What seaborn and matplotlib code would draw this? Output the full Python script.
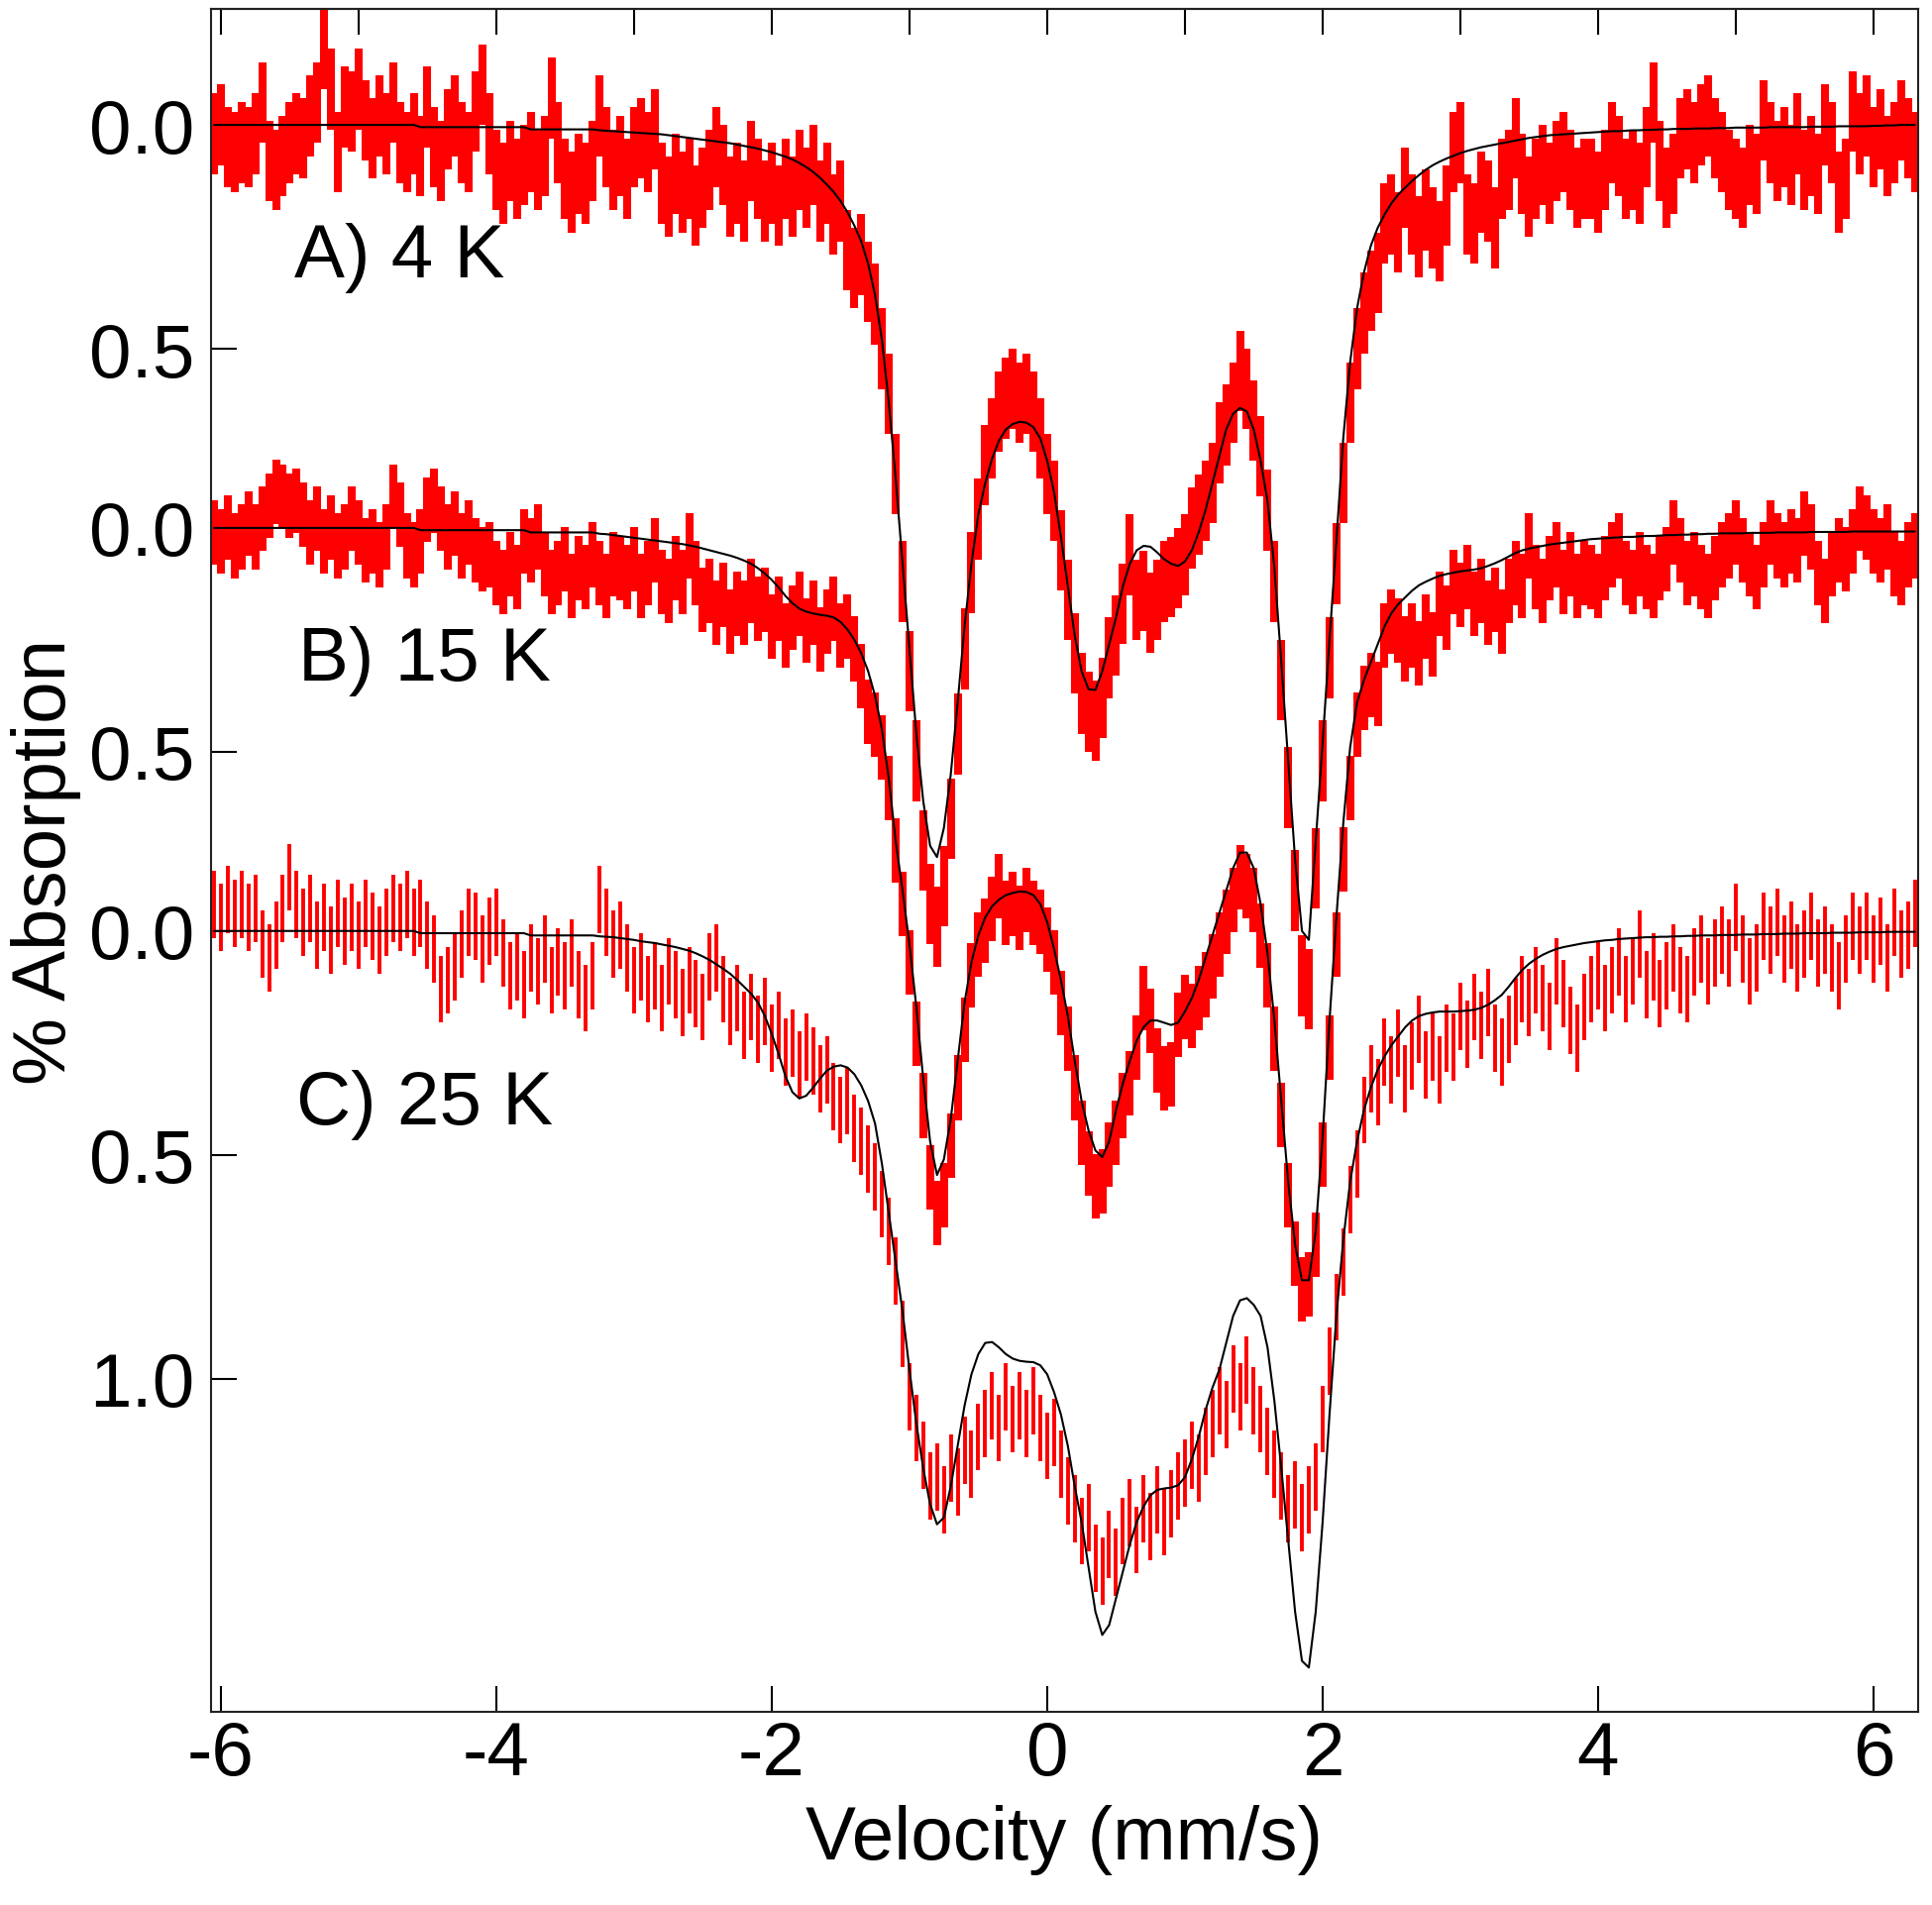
import numpy as np
import matplotlib
matplotlib.use("Agg")
import matplotlib.pyplot as plt
import seaborn as sns

sns.set_theme(style="ticks")
plt.rcParams["font.family"] = ["Liberation Sans", "DejaVu Sans"]
plt.rcParams["axes.unicode_minus"] = False

# Mossbauer spectra, % absorption (positive = down), channels every 0.05 mm/s from -6.05 to 6.30
labels = ["A) 4 K", "B) 15 K", "C) 25 K"]
offsets = [0.0, 0.9, 1.8]
errs = [0.09, 0.072, 0.075]

data_a = [
    0.02, 0.00, 0.05, 0.06, 0.04, 0.05, 0.02, -0.05, 0.08, 0.10, 0.07, 0.04, 0.02, 0.03, -0.02, -0.05, -0.17, -0.08, 0.06, -0.04,
    -0.03, -0.08, -0.01, 0.03, -0.02, 0.02, -0.05, 0.04, 0.06, 0.02, 0.07, -0.04, 0.05, 0.08, 0.01, -0.02, 0.04, 0.06, -0.03, -0.09,
    0.02, 0.10, 0.13, 0.08, 0.12, 0.09, 0.06, 0.10, 0.07, -0.06, 0.04, 0.12, 0.15, 0.11, 0.13, 0.08, -0.02, 0.05, 0.10, 0.07,
    0.12, 0.05, 0.03, 0.06, 0.01, 0.13, 0.16, 0.11, 0.15, 0.12, 0.18, 0.14, 0.10, 0.05, 0.09, 0.16, 0.13, 0.17, 0.08, 0.12,
    0.17, 0.13, 0.18, 0.12, 0.16, 0.10, 0.14, 0.09, 0.17, 0.13, 0.20, 0.17, 0.28, 0.32, 0.29, 0.35, 0.40, 0.50, 0.60, 0.78,
    1.02, 1.22, 1.42, 1.62, 1.74, 1.79, 1.70, 1.55, 1.36, 1.17, 1.00, 0.88, 0.76, 0.70, 0.64, 0.61, 0.59, 0.62, 0.60, 0.64,
    0.70, 0.78, 0.84, 0.95, 1.06, 1.18, 1.27, 1.31, 1.33, 1.28, 1.19, 1.14, 1.07, 0.96, 1.06, 1.04, 1.09, 1.06, 1.02, 1.01,
    0.99, 0.96, 0.90, 0.87, 0.84, 0.80, 0.71, 0.67, 0.62, 0.55, 0.59, 0.66, 0.74, 0.86, 1.02, 1.24, 1.48, 1.71, 1.90, 1.93,
    1.66, 1.42, 1.19, 0.98, 0.80, 0.62, 0.50, 0.42, 0.37, 0.33, 0.22, 0.20, 0.24, 0.14, 0.20, 0.25, 0.19, 0.23, 0.26, 0.18,
    0.06, 0.04, 0.20, 0.22, 0.15, 0.17, 0.23, 0.12, 0.10, 0.03, 0.11, 0.16, 0.12, 0.09, 0.13, 0.08, 0.06, 0.10, 0.14, 0.12,
    0.12, 0.15, 0.10, 0.04, 0.07, 0.12, 0.10, 0.13, 0.05, -0.05, 0.08, 0.14, 0.11, 0.03, 0.01, 0.04, 0.00, -0.02, 0.03, 0.06,
    0.10, 0.12, 0.14, 0.09, 0.11, -0.01, 0.04, 0.08, 0.05, 0.09, 0.02, 0.10, 0.07, 0.11, 0.00, 0.04, 0.15, 0.12, -0.03, 0.02,
    -0.02, 0.05, 0.01, 0.07, 0.04, -0.01, 0.03, 0.06,
]
fit_a = [
    0.0, 0.0, 0.0, 0.0, 0.0, 0.0, 0.0, 0.0, 0.0, 0.0, 0.0, 0.0, 0.0, 0.0, 0.0, 0.0, 0.0, 0.0, 0.0, 0.0,
    0.0, 0.0, 0.0, 0.0, 0.0, 0.0, 0.0, 0.0, 0.0, 0.0, 0.005, 0.005, 0.005, 0.005, 0.005, 0.005, 0.005, 0.005, 0.005, 0.005,
    0.005, 0.005, 0.005, 0.005, 0.005, 0.005, 0.01, 0.01, 0.01, 0.01, 0.01, 0.01, 0.01, 0.01, 0.01, 0.01, 0.012, 0.013, 0.014, 0.015,
    0.016, 0.017, 0.018, 0.019, 0.020, 0.021, 0.023, 0.025, 0.027, 0.029, 0.031, 0.033, 0.035, 0.037, 0.039, 0.041, 0.044, 0.047, 0.050, 0.053,
    0.057, 0.061, 0.066, 0.071, 0.077, 0.085, 0.094, 0.105, 0.118, 0.133, 0.150, 0.170, 0.195, 0.225, 0.260, 0.310, 0.380, 0.480, 0.620, 0.790,
    0.98, 1.17, 1.36, 1.51, 1.61, 1.635, 1.57, 1.45, 1.29, 1.12, 0.98, 0.87, 0.80, 0.745, 0.705, 0.68, 0.668, 0.663, 0.665, 0.675,
    0.70, 0.75, 0.82, 0.92, 1.03, 1.14, 1.22, 1.26, 1.262, 1.22, 1.16, 1.10, 1.03, 0.98, 0.95, 0.94, 0.942, 0.955, 0.97, 0.98,
    0.985, 0.975, 0.95, 0.91, 0.86, 0.80, 0.74, 0.68, 0.645, 0.632, 0.64, 0.68, 0.75, 0.84, 0.99, 1.20, 1.42, 1.64, 1.80, 1.82,
    1.60, 1.38, 1.15, 0.93, 0.70, 0.53, 0.41, 0.33, 0.27, 0.23, 0.20, 0.175, 0.155, 0.14, 0.125, 0.112, 0.10, 0.09, 0.082, 0.075,
    0.069, 0.063, 0.058, 0.054, 0.050, 0.047, 0.044, 0.041, 0.038, 0.035, 0.032, 0.029, 0.027, 0.025, 0.023, 0.022, 0.021, 0.020, 0.019, 0.018,
    0.017, 0.016, 0.015, 0.014, 0.014, 0.013, 0.012, 0.012, 0.011, 0.011, 0.010, 0.010, 0.009, 0.009, 0.009, 0.008, 0.008, 0.008, 0.007, 0.007,
    0.007, 0.006, 0.006, 0.006, 0.006, 0.006, 0.005, 0.005, 0.005, 0.005, 0.005, 0.005, 0.004, 0.004, 0.004, 0.004, 0.003, 0.003, 0.003, 0.003,
    0.003, 0.002, 0.002, 0.001, 0.001, 0.0, 0.0, 0.0,
]

data_b = [
    0.01, 0.03, 0.00, 0.04, 0.02, -0.01, 0.02, -0.02, -0.05, -0.08, -0.07, -0.05, -0.06, -0.03, 0.01, -0.02, 0.03, 0.00, 0.04, 0.02,
    -0.02, 0.01, 0.05, 0.03, 0.06, 0.02, -0.07, -0.03, 0.04, 0.06, 0.03, -0.04, -0.06, -0.02, 0.02, -0.01, 0.04, 0.01, 0.05, 0.07,
    0.06, 0.10, 0.12, 0.08, 0.11, 0.03, 0.05, 0.02, 0.08, 0.12, 0.10, 0.07, 0.13, 0.09, 0.11, 0.06, 0.10, 0.13, 0.08, 0.09,
    0.11, 0.07, 0.13, 0.10, 0.05, 0.12, 0.14, 0.09, 0.12, 0.04, 0.10, 0.16, 0.14, 0.19, 0.15, 0.21, 0.17, 0.19, 0.14, 0.18,
    0.16, 0.22, 0.18, 0.24, 0.20, 0.17, 0.23, 0.19, 0.25, 0.21, 0.18, 0.24, 0.22, 0.27, 0.33, 0.41, 0.44, 0.49, 0.58, 0.72,
    0.84, 0.97, 1.13, 1.29, 1.45, 1.53, 1.49, 1.38, 1.25, 1.12, 1.00, 0.93, 0.90, 0.85, 0.80, 0.86, 0.84, 0.87, 0.83, 0.86,
    0.88, 0.92, 0.97, 1.06, 1.14, 1.25, 1.35, 1.42, 1.47, 1.46, 1.40, 1.35, 1.29, 1.24, 1.16, 1.05, 1.10, 1.19, 1.23, 1.22,
    1.11, 1.07, 1.09, 1.05, 1.02, 0.98, 0.93, 0.88, 0.83, 0.78, 0.80, 0.83, 0.91, 1.00, 1.14, 1.31, 1.49, 1.62, 1.70, 1.69,
    1.60, 1.40, 1.16, 0.93, 0.74, 0.58, 0.44, 0.38, 0.35, 0.37, 0.24, 0.21, 0.23, 0.27, 0.24, 0.28, 0.22, 0.26, 0.17, 0.20,
    0.12, 0.15, 0.11, 0.17, 0.14, 0.19, 0.16, 0.21, 0.14, 0.10, 0.13, 0.04, 0.11, 0.14, 0.09, 0.06, 0.12, 0.08, 0.13, 0.10,
    0.11, 0.13, 0.09, 0.06, 0.04, 0.10, 0.12, 0.08, 0.11, 0.13, 0.09, 0.07, 0.01, 0.05, 0.10, 0.08, 0.11, 0.13, 0.09, 0.06,
    0.04, 0.01, 0.05, 0.08, 0.11, 0.06, 0.01, 0.04, 0.06, 0.03, 0.05, -0.01, 0.02, 0.10, 0.14, 0.08, 0.05, 0.07, 0.03, -0.02,
    0.00, 0.03, 0.05, 0.02, 0.08, 0.10, 0.06, 0.04,
]
fit_b = [
    0.0, 0.0, 0.0, 0.0, 0.0, 0.0, 0.0, 0.0, 0.0, 0.0, 0.0, 0.0, 0.0, 0.0, 0.0, 0.0, 0.0, 0.0, 0.0, 0.0,
    0.0, 0.0, 0.0, 0.0, 0.0, 0.0, 0.0, 0.0, 0.0, 0.0, 0.005, 0.005, 0.005, 0.005, 0.005, 0.005, 0.005, 0.005, 0.005, 0.005,
    0.005, 0.005, 0.005, 0.005, 0.005, 0.005, 0.01, 0.01, 0.01, 0.01, 0.01, 0.01, 0.01, 0.01, 0.01, 0.01, 0.013, 0.014, 0.016, 0.018,
    0.020, 0.022, 0.024, 0.026, 0.028, 0.030, 0.032, 0.034, 0.036, 0.039, 0.042, 0.046, 0.050, 0.054, 0.058, 0.062, 0.067, 0.073, 0.080, 0.090,
    0.102, 0.116, 0.133, 0.152, 0.168, 0.180, 0.187, 0.191, 0.194, 0.196, 0.200, 0.210, 0.227, 0.250, 0.280, 0.320, 0.375, 0.450, 0.560, 0.700,
    0.81, 0.93, 1.07, 1.23, 1.37, 1.445, 1.41, 1.32, 1.19, 1.06, 0.97, 0.91, 0.87, 0.845, 0.83, 0.82, 0.815, 0.812, 0.813, 0.82,
    0.84, 0.88, 0.94, 1.01, 1.09, 1.19, 1.28, 1.345, 1.39, 1.405, 1.37, 1.30, 1.24, 1.19, 1.145, 1.115, 1.10, 1.10, 1.105, 1.11,
    1.105, 1.08, 1.05, 1.01, 0.96, 0.91, 0.86, 0.81, 0.76, 0.725, 0.725, 0.76, 0.84, 0.95, 1.10, 1.28, 1.46, 1.60, 1.68, 1.68,
    1.57, 1.36, 1.10, 0.87, 0.66, 0.49, 0.39, 0.34, 0.30, 0.26, 0.22, 0.19, 0.17, 0.155, 0.14, 0.128, 0.12, 0.113, 0.107, 0.103,
    0.100, 0.097, 0.095, 0.093, 0.090, 0.085, 0.079, 0.072, 0.064, 0.056, 0.050, 0.046, 0.043, 0.040, 0.037, 0.035, 0.033, 0.031, 0.029, 0.027,
    0.025, 0.024, 0.023, 0.022, 0.021, 0.020, 0.020, 0.019, 0.018, 0.018, 0.017, 0.016, 0.016, 0.015, 0.015, 0.014, 0.014, 0.013, 0.013, 0.012,
    0.012, 0.012, 0.012, 0.011, 0.011, 0.011, 0.011, 0.010, 0.010, 0.010, 0.010, 0.010, 0.009, 0.009, 0.009, 0.009, 0.009, 0.009, 0.008, 0.008,
    0.008, 0.008, 0.008, 0.008, 0.008, 0.008, 0.008, 0.008,
]

data_c = [
    -0.06, -0.03, -0.07, -0.04, -0.06, -0.03, -0.05, 0.03, 0.06, 0.01, -0.05, -0.12, -0.06, -0.02, -0.05, 0.01, -0.03, 0.02, -0.04, 0.00,
    -0.03, 0.01, -0.04, -0.01, 0.02, -0.02, -0.05, -0.03, -0.06, -0.02, -0.04, 0.01, 0.04, 0.13, 0.11, 0.08, 0.03, -0.02, -0.01, 0.04,
    0.00, -0.02, 0.05, 0.10, 0.08, 0.12, 0.06, 0.09, 0.04, 0.11, 0.07, 0.10, 0.05, 0.12, 0.15, 0.10, -0.07, -0.02, 0.03, 0.01,
    0.06, 0.11, 0.08, 0.13, 0.10, 0.15, 0.09, 0.12, 0.16, 0.11, 0.14, 0.17, 0.08, 0.06, 0.13, 0.18, 0.15, 0.21, 0.17, 0.22,
    0.18, 0.24, 0.21, 0.27, 0.25, 0.30, 0.26, 0.29, 0.33, 0.31, 0.37, 0.40, 0.38, 0.44, 0.47, 0.51, 0.55, 0.61, 0.67, 0.76,
    0.90, 1.04, 1.11, 1.17, 1.24, 1.22, 1.27, 1.20, 1.23, 1.16, 1.19, 1.13, 1.10, 1.06, 1.11, 1.04, 1.09, 1.06, 1.10, 1.05,
    1.11, 1.15, 1.12, 1.19, 1.25, 1.29, 1.34, 1.31, 1.40, 1.43, 1.37, 1.41, 1.34, 1.30, 1.36, 1.29, 1.33, 1.27, 1.32, 1.28,
    1.24, 1.21, 1.17, 1.20, 1.14, 1.10, 1.05, 1.08, 1.00, 1.04, 0.98, 1.05, 1.09, 1.14, 1.19, 1.24, 1.29, 1.26, 1.31, 1.27,
    1.22, 1.09, 0.96, 0.84, 0.74, 0.60, 0.52, 0.40, 0.33, 0.36, 0.27, 0.31, 0.25, 0.33, 0.28, 0.22, 0.30, 0.26, 0.31, 0.24,
    0.26, 0.19, 0.23, 0.17, 0.21, 0.16, 0.24, 0.27, 0.22, 0.18, 0.13, 0.16, 0.11, 0.15, 0.19, 0.09, 0.14, 0.20, 0.24, 0.17,
    0.13, 0.10, 0.15, 0.11, 0.07, 0.13, 0.09, 0.03, 0.12, 0.08, 0.14, 0.10, 0.06, 0.11, 0.13, 0.07, 0.04, 0.09, 0.05, 0.02,
    0.05, -0.03, 0.04, 0.09, 0.06, -0.01, 0.02, -0.02, 0.04, 0.01, 0.06, 0.03, -0.01, 0.05, 0.02, 0.06, 0.10, 0.04, -0.01, 0.02,
    -0.01, 0.04, 0.00, 0.06, -0.02, 0.03, 0.01, -0.04,
]
fit_c = [
    0.0, 0.0, 0.0, 0.0, 0.0, 0.0, 0.0, 0.0, 0.0, 0.0, 0.0, 0.0, 0.0, 0.0, 0.0, 0.0, 0.0, 0.0, 0.0, 0.0,
    0.0, 0.0, 0.0, 0.0, 0.0, 0.0, 0.0, 0.0, 0.0, 0.0, 0.005, 0.005, 0.005, 0.005, 0.005, 0.005, 0.005, 0.005, 0.005, 0.005,
    0.005, 0.005, 0.005, 0.005, 0.005, 0.005, 0.01, 0.01, 0.01, 0.01, 0.01, 0.01, 0.01, 0.01, 0.01, 0.01, 0.012, 0.013, 0.014, 0.016,
    0.018, 0.020, 0.023, 0.025, 0.027, 0.030, 0.033, 0.036, 0.040, 0.044, 0.050, 0.057, 0.065, 0.075, 0.085, 0.096, 0.110, 0.125, 0.140, 0.160,
    0.19, 0.23, 0.275, 0.325, 0.36, 0.374, 0.368, 0.35, 0.33, 0.312, 0.303, 0.30, 0.305, 0.32, 0.345, 0.38, 0.43, 0.52, 0.63, 0.74,
    0.85, 0.98, 1.10, 1.20, 1.28, 1.325, 1.31, 1.24, 1.15, 1.06, 0.99, 0.945, 0.92, 0.918, 0.93, 0.945, 0.955, 0.96, 0.962, 0.963,
    0.97, 0.99, 1.03, 1.08, 1.15, 1.24, 1.32, 1.42, 1.52, 1.572, 1.55, 1.49, 1.43, 1.37, 1.32, 1.285, 1.26, 1.248, 1.245, 1.243,
    1.238, 1.22, 1.18, 1.13, 1.07, 1.02, 0.98, 0.92, 0.86, 0.825, 0.82, 0.835, 0.86, 0.93, 1.05, 1.20, 1.36, 1.52, 1.63, 1.645,
    1.52, 1.32, 1.08, 0.86, 0.69, 0.56, 0.47, 0.40, 0.35, 0.31, 0.28, 0.255, 0.235, 0.215, 0.20, 0.19, 0.185, 0.182, 0.18, 0.18,
    0.18, 0.179, 0.178, 0.176, 0.172, 0.165, 0.155, 0.143, 0.125, 0.105, 0.087, 0.073, 0.062, 0.053, 0.046, 0.040, 0.036, 0.033, 0.030, 0.027,
    0.025, 0.023, 0.021, 0.020, 0.018, 0.017, 0.016, 0.015, 0.014, 0.014, 0.013, 0.013, 0.012, 0.012, 0.011, 0.011, 0.010, 0.010, 0.010, 0.009,
    0.009, 0.009, 0.008, 0.008, 0.008, 0.007, 0.007, 0.007, 0.006, 0.006, 0.006, 0.005, 0.005, 0.005, 0.005, 0.004, 0.004, 0.004, 0.004, 0.003,
    0.003, 0.003, 0.003, 0.002, 0.002, 0.002, 0.002, 0.002,
]

ytick_pos = [0.0, 0.5, 0.9, 1.4, 1.8, 2.3, 2.8]
ytick_labels = ["0.0", "0.5", "0.0", "0.5", "0.0", "0.5", "1.0"]
label_pos = [(-5.47, 0.338), (-5.44, 1.239), (-5.45, 2.23)]

n = len(data_a)
velocity = np.round(-6.05 + 0.05 * np.arange(n), 2)

fs = 55
fig = plt.figure(figsize=(19.5, 19.24), dpi=100)
ax = fig.add_axes([0.1092, 0.1013, 0.8836, 0.8935])

spectra = [(data_a, fit_a), (data_b, fit_b), (data_c, fit_c)]
bar_widths = [5.8, 5.8, 2.8]
for (dat, fit), off, err, bw in zip(spectra, offsets, errs, bar_widths):
    ax.errorbar(velocity, np.array(dat) + off, yerr=err, fmt="none",
                ecolor="#ff0000", elinewidth=bw, capsize=0, zorder=2)
    sns.lineplot(x=velocity, y=np.array(fit) + off, ax=ax, color="black",
                 linewidth=1.5, estimator=None, zorder=3)

for txt, (x, y) in zip(labels, label_pos):
    ax.text(x, y, txt, fontsize=fs, va="baseline", ha="left", color="black")

ax.set_xlim(-6.072, 6.324)
ax.set_ylim(3.544, -0.259)
ax.set_xticks([-6, -4, -2, 0, 2, 4, 6])
ax.set_yticks(ytick_pos)
ax.set_yticklabels(ytick_labels)
ax.tick_params(axis="x", direction="in", length=18.5, width=1.5, pad=6,
               labelsize=fs, top=False, colors="black")
ax.tick_params(axis="y", direction="in", length=18.5, width=1.5, pad=12,
               labelsize=fs, right=False, colors="black")
for sp in ax.spines.values():
    sp.set_linewidth(1.5)
    sp.set_color("#222222")

top = ax.secondary_xaxis("top")
top.set_xticks(range(-6, 7))
top.tick_params(direction="in", length=18.5, width=1.5, labeltop=False, colors="black")
top.spines["top"].set_linewidth(1.5)

ax.set_xlabel("Velocity (mm/s)", fontsize=fs, labelpad=10, color="black")
ax.set_ylabel("% Absorption", fontsize=fs, labelpad=6, color="black")

fig.savefig("out.png", dpi=100)
